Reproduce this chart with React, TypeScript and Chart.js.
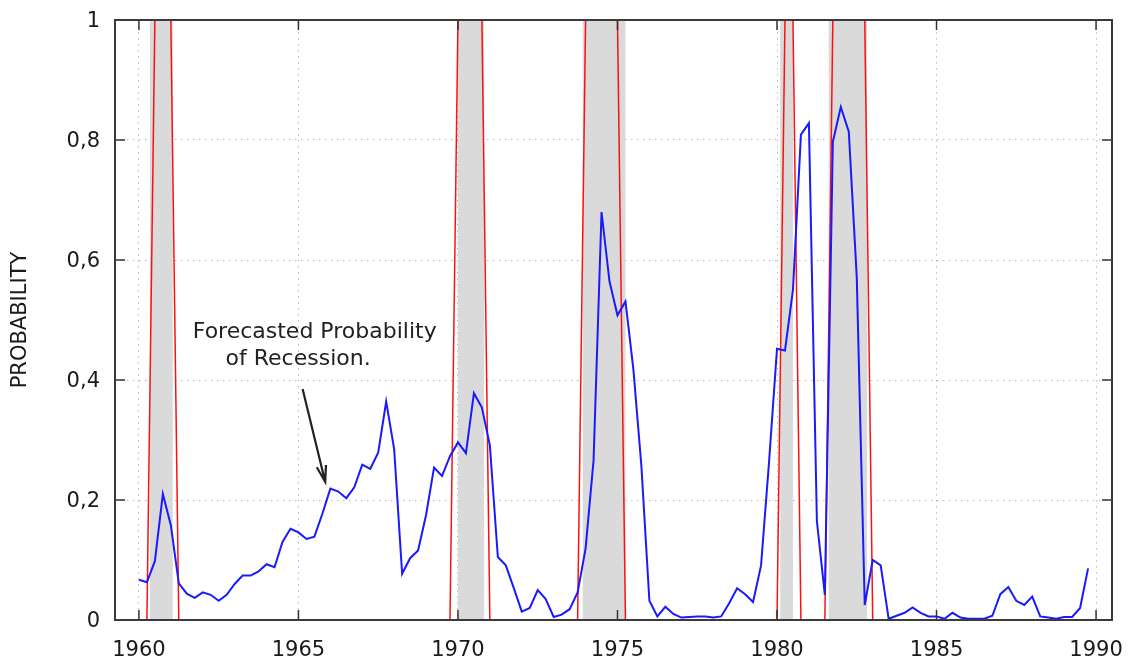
import React, { useEffect, useRef } from 'react';
import { Chart, registerables } from 'chart.js';

Chart.register(...registerables);

// ---- data ----
const startYear = 1960; // first quarter of the probability series
const probability: number[] = [
  // 1960
  0.067, 0.063, 0.098, 0.21,
  // 1961
  0.158, 0.061, 0.044, 0.037,
  // 1962
  0.046, 0.042, 0.032, 0.042,
  // 1963
  0.06, 0.074, 0.074, 0.081,
  // 1964
  0.093, 0.088, 0.13, 0.152,
  // 1965
  0.146, 0.135, 0.139, 0.177,
  // 1966
  0.219, 0.214, 0.203, 0.221,
  // 1967
  0.259, 0.252, 0.279, 0.364,
  // 1968
  0.285, 0.077, 0.103, 0.116,
  // 1969
  0.175, 0.254, 0.24, 0.273,
  // 1970
  0.296, 0.278, 0.378, 0.354,
  // 1971
  0.291, 0.105, 0.091, 0.053,
  // 1972
  0.014, 0.02, 0.05, 0.035,
  // 1973
  0.005, 0.009, 0.018, 0.046,
  // 1974
  0.119, 0.266, 0.68, 0.564,
  // 1975
  0.508, 0.531, 0.417, 0.256,
  // 1976
  0.032, 0.006, 0.022, 0.01,
  // 1977
  0.004, 0.005, 0.006, 0.006,
  // 1978
  0.004, 0.006, 0.028, 0.053,
  // 1979
  0.043, 0.03, 0.091, 0.263,
  // 1980
  0.452, 0.449, 0.55, 0.809,
  // 1981
  0.828, 0.165, 0.042, 0.797,
  // 1982
  0.855, 0.814, 0.571, 0.025,
  // 1983
  0.1, 0.091, 0.002, 0.007,
  // 1984
  0.012, 0.021, 0.012, 0.006,
  // 1985
  0.006, 0.002, 0.012, 0.004,
  // 1986
  0.002, 0.002, 0.002, 0.007,
  // 1987
  0.043, 0.055, 0.032, 0.025,
  // 1988
  0.039, 0.006, 0.004, 0.002,
  // 1989
  0.005, 0.005, 0.02, 0.086,
];

// quarterly recession indicator: first and last quarter equal to 1
const recessionQuarters: [number, number][] = [
  [1960.5, 1961.0],
  [1970.0, 1970.75],
  [1974.0, 1975.0],
  [1980.25, 1980.5],
  [1981.75, 1982.75],
];

// shaded (monthly) recession periods
const recessionPeriods: [number, number][] = [
  [1960.34, 1961.06],
  [1970.0, 1970.82],
  [1973.91, 1975.25],
  [1980.1, 1980.5],
  [1981.62, 1982.83],
];

const xTickValues = [1960, 1965, 1970, 1975, 1980, 1985, 1990];
const yTickValues = [0, 0.2, 0.4, 0.6, 0.8, 1];
const yAxisTitle = 'PROBABILITY';

const annotationLines = [
  { text: 'Forecasted Probability', x: 1965.51, y: 0.47 },
  { text: 'of Recession.', x: 1964.99, y: 0.425 },
];
const arrowFrom = { x: 1965.13, y: 0.385 };
const arrowTo = { x: 1965.84, y: 0.23 };

const FONT = '"DejaVu Sans", Verdana, sans-serif';

const framePlugin = {
  id: 'frame',
  afterDatasetsDraw(chart: any) {
    const { ctx, chartArea: a, scales } = chart;
    const xs = scales.x;
    const ys = scales.y;
    ctx.save();
    ctx.strokeStyle = '#333';
    ctx.lineWidth = 1.5;
    ctx.beginPath();
    for (const v of xTickValues) {
      const px = xs.getPixelForValue(v);
      ctx.moveTo(px, a.bottom);
      ctx.lineTo(px, a.bottom - 10);
      ctx.moveTo(px, a.top);
      ctx.lineTo(px, a.top + 10);
    }
    for (const v of yTickValues) {
      const py = ys.getPixelForValue(v);
      ctx.moveTo(a.left, py);
      ctx.lineTo(a.left + 10, py);
      ctx.moveTo(a.right, py);
      ctx.lineTo(a.right - 10, py);
    }
    ctx.stroke();
    ctx.lineWidth = 2;
    ctx.strokeStyle = '#3a3a3a';
    ctx.strokeRect(a.left, a.top, a.right - a.left, a.bottom - a.top);

    // annotation text
    ctx.fillStyle = '#222';
    ctx.font = `22px ${FONT}`;
    ctx.textAlign = 'center';
    ctx.textBaseline = 'alphabetic';
    for (const l of annotationLines) {
      ctx.fillText(l.text, xs.getPixelForValue(l.x), ys.getPixelForValue(l.y));
    }
    // arrow
    const x0 = xs.getPixelForValue(arrowFrom.x);
    const y0 = ys.getPixelForValue(arrowFrom.y);
    const x1 = xs.getPixelForValue(arrowTo.x);
    const y1 = ys.getPixelForValue(arrowTo.y);
    const ang = Math.atan2(y1 - y0, x1 - x0);
    const hl = 17;
    const ha = 0.28;
    ctx.strokeStyle = '#222';
    ctx.lineWidth = 2.2;
    ctx.beginPath();
    ctx.moveTo(x0, y0);
    ctx.lineTo(x1, y1);
    ctx.moveTo(x1 - hl * Math.cos(ang - ha), y1 - hl * Math.sin(ang - ha));
    ctx.lineTo(x1, y1);
    ctx.lineTo(x1 - hl * Math.cos(ang + ha), y1 - hl * Math.sin(ang + ha));
    ctx.stroke();
    ctx.restore();
  },
};

export default function App() {
  const ref = useRef<HTMLCanvasElement | null>(null);

  useEffect(() => {
    if (!ref.current) return;

    const blueData = probability.map((v, i) => ({ x: startYear + i / 4, y: v }));

    const shadeData: { x: number; y: number }[] = [];
    for (const [s, e] of recessionPeriods) {
      shadeData.push({ x: s, y: 0 }, { x: s, y: 1 }, { x: e, y: 1 }, { x: e, y: 0 });
    }

    const redSets = recessionQuarters.map(([s, e]) => ({
      type: 'line' as const,
      data: [
        { x: s - 0.25, y: 0 },
        { x: s, y: 1 },
        { x: e, y: 1 },
        { x: e + 0.25, y: 0 },
      ],
      borderColor: '#ff1010',
      borderWidth: 1.5,
      pointRadius: 0,
      tension: 0,
      fill: false,
      order: 1,
    }));

    const chart = new Chart(ref.current, {
      type: 'line',
      data: {
        datasets: [
          {
            data: blueData,
            borderColor: '#1a1aff',
            borderWidth: 2,
            pointRadius: 0,
            tension: 0,
            fill: false,
            order: 0,
          },
          ...redSets,
          {
            data: shadeData,
            borderWidth: 0,
            borderColor: 'rgba(0,0,0,0)',
            backgroundColor: '#dadada',
            pointRadius: 0,
            tension: 0,
            fill: 'origin',
            order: 2,
          },
        ] as any,
      },
      options: {
        responsive: false,
        animation: false,
        devicePixelRatio: 1,
        events: [],
        layout: { padding: { top: 20, right: 17, bottom: 0, left: 0 } },
        plugins: { legend: { display: false }, tooltip: { enabled: false } },
        scales: {
          x: {
            type: 'linear',
            min: 1959.25,
            max: 1990.5,
            afterBuildTicks: (scale: any) => {
              scale.ticks = xTickValues.map((v) => ({ value: v }));
            },
            afterFit: (scale: any) => {
              scale.height = 37;
              scale.paddingLeft = 0;
              scale.paddingRight = 0;
            },
            grid: { color: '#b8b8b8', lineWidth: 1, drawTicks: false },
            border: { display: false, dash: [1.5, 4.5] },
            ticks: {
              padding: 18,
              color: '#1a1a1a',
              font: { family: FONT, size: 21 },
              maxRotation: 0,
              autoSkip: false,
              callback: (v: any) => String(v),
            },
          },
          y: {
            type: 'linear',
            min: 0,
            max: 1,
            afterBuildTicks: (scale: any) => {
              scale.ticks = yTickValues.map((v) => ({ value: v }));
            },
            afterFit: (scale: any) => {
              scale.width = 115;
              scale.paddingTop = 0;
              scale.paddingBottom = 0;
            },
            grid: { color: '#b8b8b8', lineWidth: 1, drawTicks: false },
            border: { display: false, dash: [1.5, 4.5] },
            ticks: {
              padding: 15,
              labelOffset: 2,
              color: '#1a1a1a',
              font: { family: FONT, size: 21 },
              callback: (v: any) => String(Number(Number(v).toFixed(1))).replace('.', ','),
            },
            title: {
              display: true,
              text: yAxisTitle,
              color: '#1a1a1a',
              font: { family: FONT, size: 21 },
              padding: { top: 8, bottom: 0 },
            },
          },
        },
      },
      plugins: [framePlugin],
    });

    return () => chart.destroy();
  }, []);

  return (
    <div style={{ position: 'absolute', left: 0, top: 0, width: 1129, height: 657, background: '#fff' }}>
      <canvas ref={ref} width={1129} height={657} style={{ display: 'block' }} />
    </div>
  );
}
